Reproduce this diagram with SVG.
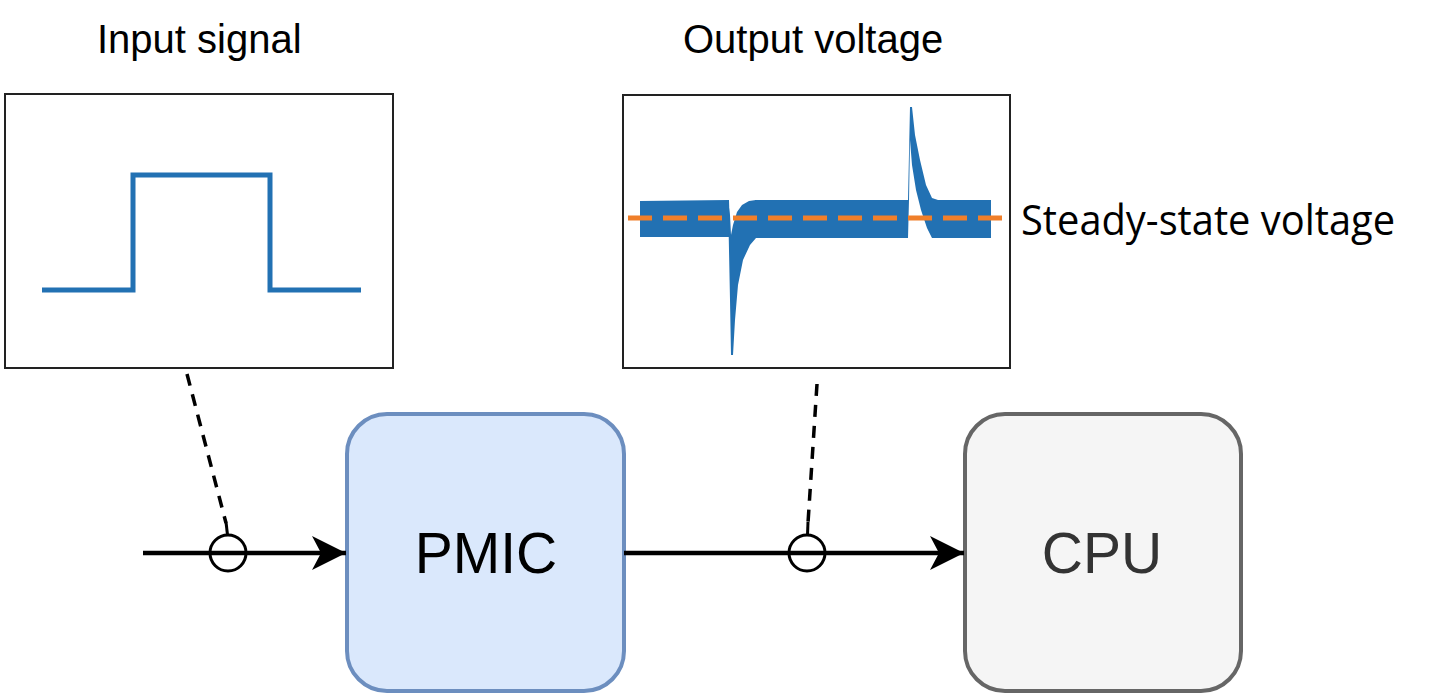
<svg xmlns="http://www.w3.org/2000/svg" width="1439" height="696" viewBox="0 0 1439 696">
<style>
.title{font-family:"Liberation Sans",Arial,sans-serif;font-size:40px;fill:#000}
.node{font-family:"Liberation Sans",Arial,sans-serif;font-size:57px;text-anchor:middle}
.plot{fill:#fff;stroke:#222;stroke-width:2}
.wire{stroke:#000;stroke-width:4.5;fill:none}
.tap{fill:none;stroke:#000;stroke-width:3}
.lead{stroke:#000;stroke-width:3.5;fill:none;stroke-dasharray:12 9}
.sig{fill:#2271b3}
</style>
<defs>
<marker id="arr" markerWidth="34" markerHeight="34" refX="34" refY="17" viewBox="0 0 34 34" orient="auto" markerUnits="userSpaceOnUse">
<path d="M0,0 L34,17 L0,34 L9,17 Z" fill="#000"/>
</marker>
</defs>
<rect width="1439" height="696" fill="#fff"/>

<g id="input-plot">
<text class="title" x="97" y="53">Input signal</text>
<rect class="plot" x="5" y="94" width="388" height="274"/>
<path d="M42,290 H133 V175 H270 V290 H361" fill="none" stroke="#2271b3" stroke-width="5"/>
</g>

<g id="output-plot">
<text class="title" x="683" y="53">Output voltage</text>
<rect class="plot" x="623" y="95" width="387" height="273"/>
<path class="sig" d="M640,201 L729,200 L730,237 L640,237 Z"/>
<path class="sig" d="M728,200 L730,300 L731,355 L733,355 L735,320 L738,285 L743,260 L750,245 L756,238 L756,200 L749,201 L742,205 L737,212 L733,225 L731,235 L730,215 Z"/>
<path class="sig" d="M755,200 L908,200 L908,238 L755,238 Z"/>
<path class="sig" d="M908,238 L908,200 L910,107 L912,107 L915,135 L920,160 L926,185 L932,198 L938,200 L938,238 L932,238 L927,228 L921,210 L916,190 L912,165 L910,140 L909,200 Z"/>
<path class="sig" d="M936,200 L991,200 L991,238 L936,238 Z"/>
<line x1="628" y1="218" x2="1005" y2="218" stroke="#f07f2a" stroke-width="5" stroke-dasharray="24 11"/>
<text x="1021" y="235" font-family="'Open Sans','Noto Sans',sans-serif" font-size="42" textLength="374" lengthAdjust="spacingAndGlyphs" fill="#000">Steady-state voltage</text>
</g>

<g id="pmic">
<rect x="347" y="414" width="277" height="277" rx="40" ry="40" fill="#dae8fc" stroke="#6c8ebf" stroke-width="4"/>
<text class="node" x="486" y="573" fill="#000">PMIC</text>
</g>

<g id="cpu">
<rect x="965" y="414" width="276" height="277" rx="40" ry="40" fill="#f5f5f5" stroke="#666" stroke-width="4"/>
<text class="node" x="1102" y="573" fill="#333">CPU</text>
</g>

<g id="connectors">
<line class="wire" x1="143" y1="553" x2="346" y2="553" marker-end="url(#arr)"/>
<line class="wire" x1="624" y1="553" x2="964" y2="553" marker-end="url(#arr)"/>
<path class="lead" d="M187,374 L226,523"/>
<line x1="226" y1="522" x2="227.5" y2="535" stroke="#000" stroke-width="3"/>
<circle class="tap" cx="228" cy="553" r="18"/>
<path class="lead" d="M817,384 L808,523"/>
<line x1="808" y1="522" x2="807.5" y2="535" stroke="#000" stroke-width="3"/>
<circle class="tap" cx="807" cy="553" r="18"/>
</g>
</svg>
